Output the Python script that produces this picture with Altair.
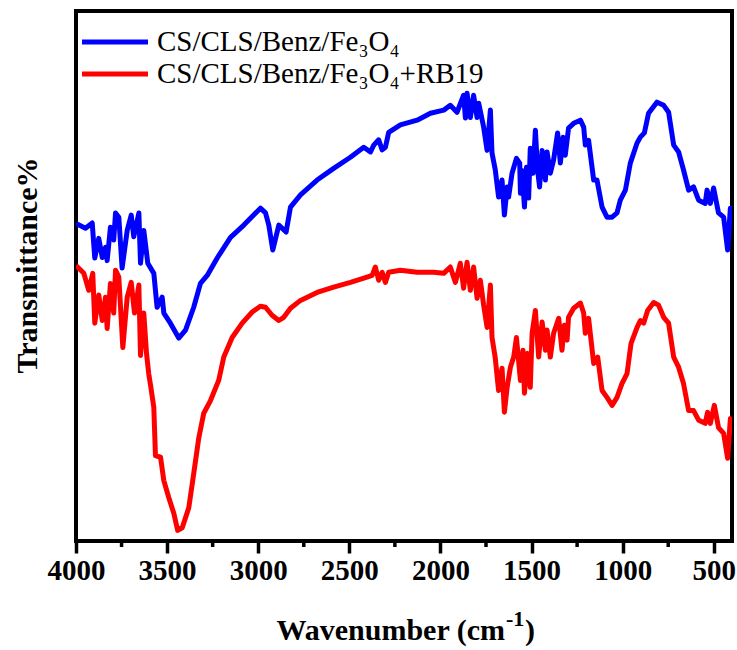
import altair as alt
import pandas as pd

# ---- data (wavenumber cm-1, transmittance a.u.) ----
wn_blue = [4000, 3948, 3911, 3897, 3875, 3856, 3838, 3829, 3811, 3793, 3783, 3765, 3747, 3719,
           3697, 3683, 3655, 3646, 3628, 3606, 3573, 3555, 3527, 3518, 3482, 3436, 3399, 3354,
           3317, 3280, 3225, 3152, 3079, 3025, 2988, 2960, 2942, 2920, 2887, 2847, 2823, 2768,
           2677, 2586, 2494, 2421, 2384, 2366, 2339, 2320, 2302, 2284, 2220, 2128, 2055, 1982,
           1946, 1909, 1873, 1863, 1854, 1836, 1818, 1799, 1790, 1763, 1744, 1726, 1717, 1699,
           1681, 1662, 1649, 1634, 1626, 1607, 1583, 1565, 1561, 1552, 1539, 1528, 1516, 1507,
           1492, 1479, 1467, 1456, 1442, 1424, 1415, 1397, 1379, 1357, 1342, 1327, 1315, 1297,
           1269, 1232, 1214, 1205, 1187, 1159, 1141, 1113, 1086, 1058, 1031, 1013, 985, 958,
           921, 903, 881, 858, 812, 775, 748, 720, 693, 666, 638, 611, 583, 547, 537, 519, 501,
           474, 446, 424, 409, 400]
t_blue = [59.9, 59.0, 60.0, 53.4, 57.1, 53.5, 55.4, 52.9, 59.2, 56.8, 61.9, 61.1, 51.5, 58.6,
          61.5, 57.4, 61.9, 52.4, 58.6, 52.4, 50.5, 44.1, 46.0, 43.0, 41.1, 38.3, 39.8, 44.1,
          48.6, 50.1, 53.4, 57.3, 59.6, 61.5, 62.8, 61.9, 59.6, 54.9, 59.6, 58.3, 63.0, 65.3,
          68.1, 70.3, 72.4, 74.3, 73.4, 74.7, 75.7, 73.8, 74.3, 77.1, 78.5, 79.4, 80.7, 81.3,
          82.2, 80.9, 84.1, 79.8, 84.5, 79.9, 84.1, 79.9, 82.6, 78.1, 73.7, 81.3, 73.2, 70.0,
          64.9, 68.1, 61.5, 66.8, 64.9, 69.4, 72.2, 71.3, 65.6, 69.9, 63.0, 70.5, 64.7, 74.1,
          69.4, 77.5, 70.0, 66.8, 73.7, 68.1, 73.4, 69.4, 71.9, 77.0, 71.3, 76.2, 72.8, 77.9,
          78.8, 79.4, 78.1, 74.7, 75.6, 68.1, 68.1, 63.0, 61.1, 61.1, 61.9, 64.3, 66.2, 71.3,
          75.1, 76.2, 77.0, 80.7, 82.8, 82.2, 80.9, 74.7, 73.4, 70.0, 66.2, 66.8, 64.3, 63.7,
          66.2, 63.7, 66.6, 61.9, 61.1, 54.9, 62.8, 62.8]

wn_red = [4000, 3957, 3930, 3908, 3897, 3875, 3856, 3838, 3829, 3811, 3793, 3783, 3765, 3743,
          3719, 3697, 3679, 3655, 3646, 3628, 3613, 3601, 3591, 3573, 3564, 3536, 3518, 3491,
          3463, 3442, 3417, 3381, 3354, 3326, 3299, 3262, 3217, 3189, 3143, 3088, 3033, 2988,
          2960, 2924, 2887, 2860, 2823, 2768, 2677, 2586, 2494, 2403, 2375, 2357, 2339, 2320,
          2302, 2284, 2220, 2128, 2037, 1982, 1946, 1918, 1891, 1873, 1854, 1836, 1818, 1799,
          1781, 1763, 1744, 1726, 1717, 1699, 1681, 1662, 1649, 1634, 1616, 1598, 1583, 1561,
          1547, 1539, 1521, 1507, 1497, 1479, 1461, 1442, 1424, 1415, 1397, 1379, 1351, 1333,
          1320, 1305, 1297, 1269, 1232, 1214, 1205, 1187, 1159, 1137, 1113, 1086, 1058, 1031,
          1004, 976, 954, 921, 903, 885, 863, 830, 803, 775, 748, 720, 693, 666, 638, 611, 583,
          547, 534, 519, 497, 474, 446, 424, 409, 400]
t_red = [52.0, 50.5, 47.3, 50.5, 41.1, 46.4, 41.6, 46.0, 40.1, 48.6, 43.0, 51.1, 49.8, 36.5,
         46.0, 48.8, 43.0, 48.3, 35.0, 43.0, 35.4, 31.6, 29.4, 25.2, 16.1, 15.8, 11.4, 8.2,
         5.2, 2.0, 2.5, 6.3, 12.7, 19.5, 24.1, 26.5, 30.3, 34.7, 38.4, 41.1, 43.2, 44.3,
         44.1, 42.6, 41.6, 42.2, 43.9, 45.4, 46.9, 47.9, 48.8, 49.8, 50.1, 51.7, 49.2, 50.7,
         48.8, 50.7, 51.1, 50.7, 50.7, 50.5, 51.7, 48.8, 52.4, 47.7, 52.6, 47.3, 51.7, 45.8,
         49.2, 44.5, 40.3, 48.3, 38.4, 34.5, 28.4, 32.6, 24.3, 29.0, 32.8, 34.7, 38.4, 30.3,
         36.0, 27.9, 35.4, 29.0, 39.2, 43.5, 34.7, 41.3, 36.0, 39.8, 34.7, 39.2, 42.0, 36.0,
         40.7, 37.9, 42.2, 43.9, 44.9, 43.0, 39.2, 42.0, 33.5, 34.7, 28.4, 27.1, 25.6, 27.1,
         29.7, 31.6, 37.3, 40.3, 41.6, 41.1, 43.5, 45.0, 44.5, 42.2, 41.1, 34.7, 32.8, 29.7,
         24.6, 24.6, 22.8, 22.2, 24.3, 22.2, 25.6, 21.4, 20.3, 15.6, 23.1, 23.3]

series_names = ["CS/CLS/Benz/Fe\u2083O\u2084", "CS/CLS/Benz/Fe\u2083O\u2084+RB19"]
series_colors = ["#0000ff", "#ff0000"]
major_ticks = [4000, 3500, 3000, 2500, 2000, 1500, 1000, 500]
minor_ticks = [3750, 3250, 2750, 2250, 1750, 1250, 750]

df = pd.concat([
    pd.DataFrame({"wn": wn_blue, "T": t_blue, "series": series_names[0]}),
    pd.DataFrame({"wn": wn_red, "T": t_red, "series": series_names[1]}),
])

FONT = "Liberation Serif"
W, H = 656, 530

x_scale = alt.Scale(domain=[4000, 400], nice=False, zero=False)

x_axis = alt.Axis(
    values=major_ticks,
    format="d",
    tickSize=12,
    tickWidth=3.5,
    tickColor="black",
    domain=False,
    grid=False,
    labelFont=FONT,
    labelFontWeight="bold",
    labelFontSize=29,
    labelColor="black",
    labelPadding=3,
    labelFlush=False,
    labelOverlap=False,
    title=None,
)

y_axis = alt.Axis(
    labels=False,
    ticks=False,
    domain=False,
    grid=False,
    title="Transmittance%",
    titleFont=FONT,
    titleFontWeight="bold",
    titleFontSize=30,
    titleColor="black",
    titleAngle=-90,
    titleAlign="center",
    titleBaseline="middle",
    titleX=-49,
    titleY=254,
)

lines = alt.Chart(df).mark_line(strokeWidth=5, strokeJoin="round", clip=True).encode(
    x=alt.X("wn:Q", scale=x_scale, axis=x_axis),
    y=alt.Y("T:Q", scale=alt.Scale(domain=[0, 100], nice=False, zero=False), axis=y_axis),
    color=alt.Color("series:N", scale=alt.Scale(domain=series_names, range=series_colors), legend=None),
    detail="series:N",
)

minor = alt.Chart(pd.DataFrame({"wn": minor_ticks})).mark_rule(
    color="black", strokeWidth=3.5
).encode(
    x=alt.X("wn:Q", scale=x_scale),
    y=alt.value(H),
    y2=alt.value(H + 6),
)

one = pd.DataFrame({"k": [0]})
layers = [lines, minor]
for i, (name, col) in enumerate(zip(series_names, series_colors)):
    yy = 31 + 32 * i
    layers.append(
        alt.Chart(one).mark_rule(color=col, strokeWidth=5).encode(
            x=alt.value(6), x2=alt.value(72), y=alt.value(yy)
        )
    )
    layers.append(
        alt.Chart(one).mark_text(align="left", baseline="middle", font=FONT, fontSize=29, color="black").encode(
            x=alt.value(81), y=alt.value(yy), text=alt.value(name)
        )
    )

# x-axis title with a real superscript
title_base = 629
sup_x = 429
layers.append(
    alt.Chart(one).mark_text(align="right", baseline="alphabetic", font=FONT, fontSize=30,
                             fontWeight="bold", color="black").encode(
        x=alt.value(sup_x), y=alt.value(title_base), text=alt.value("Wavenumber (cm"))
)
layers.append(
    alt.Chart(one).mark_text(align="left", baseline="alphabetic", font=FONT, fontSize=22,
                             fontWeight="bold", color="black").encode(
        x=alt.value(sup_x + 1), y=alt.value(title_base - 14), text=alt.value("-1"))
)
layers.append(
    alt.Chart(one).mark_text(align="left", baseline="alphabetic", font=FONT, fontSize=30,
                             fontWeight="bold", color="black").encode(
        x=alt.value(sup_x + 20), y=alt.value(title_base), text=alt.value(")"))
)

chart = alt.layer(*layers).properties(
    width=W,
    height=H,
    padding={"left": 76, "top": 11, "right": 5, "bottom": 109},
    autosize=alt.AutoSizeParams(type="none"),
    background="white",
).configure_view(stroke="black", strokeWidth=4)

chart.save("out.html", embed_options={"renderer": "svg", "actions": False})
